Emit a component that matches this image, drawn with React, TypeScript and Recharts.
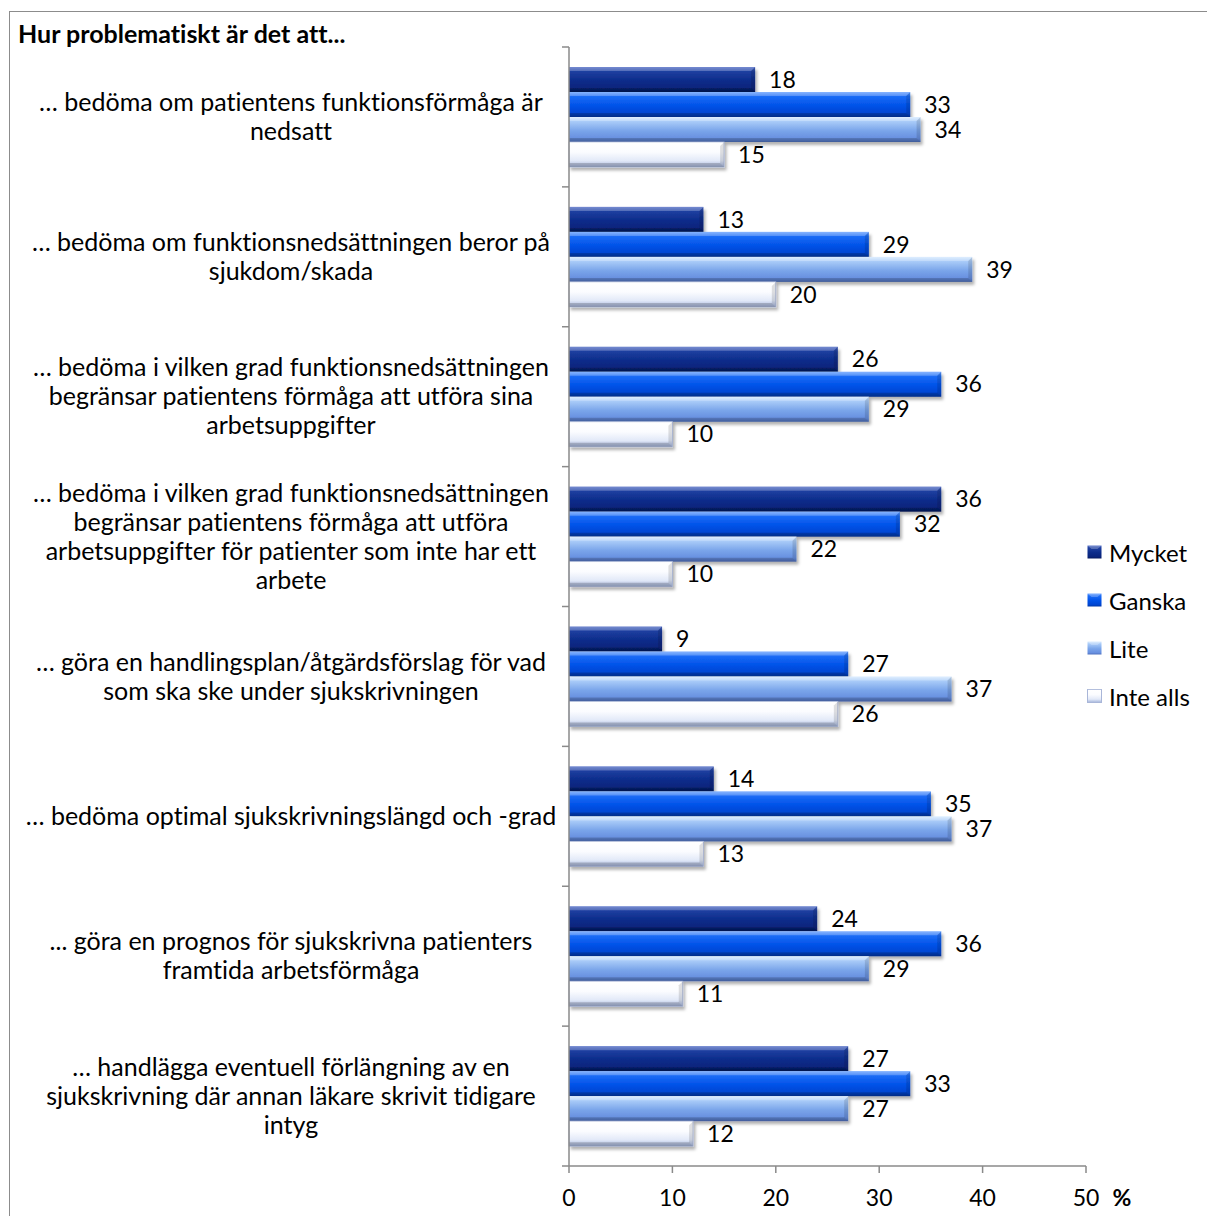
import React from "react";
import { BarChart, Bar, XAxis, YAxis, LabelList } from "recharts";

// Kategorier (radbrytningar som i originalet)
const categories = [
  "… bedöma om patientens funktionsförmåga är\nnedsatt",
  "… bedöma om funktionsnedsättningen beror på\nsjukdom/skada",
  "… bedöma i vilken grad funktionsnedsättningen\nbegränsar patientens förmåga att utföra sina\narbetsuppgifter",
  "… bedöma i vilken grad funktionsnedsättningen\nbegränsar patientens förmåga att utföra\narbetsuppgifter för patienter som inte har ett\narbete",
  "… göra en handlingsplan/åtgärdsförslag för vad\nsom ska ske under sjukskrivningen",
  "… bedöma optimal sjukskrivningslängd och -grad",
  "... göra en prognos för sjukskrivna patienters\nframtida arbetsförmåga",
  "… handlägga eventuell förlängning av en\nsjukskrivning där annan läkare skrivit tidigare\nintyg",
];

const mycket = [18, 13, 26, 36, 9, 14, 24, 27];
const ganska = [33, 29, 36, 32, 27, 35, 36, 33];
const lite = [34, 39, 29, 22, 37, 37, 29, 27];
const inteAlls = [15, 20, 10, 10, 26, 13, 11, 12];

const seriesNames = ["Mycket", "Ganska", "Lite", "Inte alls"];
const xTicks = [0, 10, 20, 30, 40, 50];

const title = "Hur problematiskt är det att...";

const FONT = "Lato, 'Open Sans', sans-serif";
const W = 1200;
const H = 1208;
const PLOT_LEFT = 561;
const PLOT_TOP = 39;
const PLOT_BOTTOM = 1158;
const BAND = (PLOT_BOTTOM - PLOT_TOP) / categories.length;
const AXIS = "#8a8a8a";

const gradients = [
  [["0", "#4d69c4"], ["0.18", "#1e3fa0"], ["0.55", "#0c2c8a"], ["0.85", "#09247c"], ["1", "#061a5e"]],
  [["0", "#66a0ff"], ["0.18", "#1c6cf6"], ["0.55", "#0052e8"], ["0.85", "#0046d2"], ["1", "#0037a6"]],
  [["0", "#d6eaff"], ["0.18", "#a9cbf8"], ["0.55", "#7aa5ea"], ["0.85", "#6890e0"], ["1", "#4f72bf"]],
  [["0", "#ffffff"], ["0.4", "#fbfcff"], ["0.75", "#e2e9f8"], ["1", "#a3b3da"]],
];

const data = categories.map((c, i) => ({
  category: c,
  Mycket: mycket[i],
  Ganska: ganska[i],
  Lite: lite[i],
  "Inte alls": inteAlls[i],
}));

function BevelBar(props: any) {
  const { x, y, width, height, gi } = props;
  if (!width || width <= 0) return null;
  const b = 4;
  const r = x + width;
  const bot = y + height;
  return (
    <g filter="url(#barShadow)">
      <rect x={x} y={y} width={width} height={height} fill={`url(#grad${gi})`}
        stroke={gi === 3 ? "#a9b6d8" : "none"} strokeWidth={gi === 3 ? 0.8 : 0} />
      <polygon points={`${x},${y} ${r},${y} ${r - b},${y + b} ${x},${y + b}`} fill="#ffffff" fillOpacity={0.22} />
      <polygon points={`${x},${bot - b} ${r - b},${bot - b} ${r},${bot} ${x},${bot}`} fill="#000000" fillOpacity={0.18} />
      <polygon points={`${r - b},${y + b} ${r},${y} ${r},${bot} ${r - b},${bot - b}`} fill="#000000" fillOpacity={0.12} />
    </g>
  );
}

function CategoryTick({ y, payload, index }: any) {
  const lines = String(payload.value).split("\n");
  const lh = 29;
  const start = y - ((lines.length - 1) * lh) / 2;
  const top = y - BAND / 2;
  return (
    <g>
      <line x1={PLOT_LEFT - 7} x2={PLOT_LEFT} y1={top} y2={top} stroke={AXIS} strokeWidth={1.5} />
      {index === categories.length - 1 && (
        <line x1={PLOT_LEFT - 7} x2={PLOT_LEFT} y1={top + BAND} y2={top + BAND} stroke={AXIS} strokeWidth={1.5} />
      )}
      {lines.map((l, i) => (
        <text key={i} x={283} y={start + i * lh} dy="0.35em" textAnchor="middle" fontSize={25} fill="#000"
          fontFamily={FONT} style={{ fontVariantLigatures: "none" }}>
          {l}
        </text>
      ))}
    </g>
  );
}

function ValueTick({ x, y, payload }: any) {
  return (
    <g>
      <text x={x} y={y} dy="0.71em" textAnchor="middle" fontSize={23} fill="#000" fontFamily={FONT}>
        {payload.value}
      </text>
      {payload.value === xTicks[xTicks.length - 1] && (
        <text x={x + 36} y={y} dy="0.71em" textAnchor="middle" fontSize={23} fontWeight="bold" fill="#000" fontFamily={FONT}>
          %
        </text>
      )}
    </g>
  );
}

function LegendBox() {
  return (
    <div style={{ position: "absolute", left: 1079, top: 520 }}>
      {seriesNames.map((n, i) => (
        <div key={n} style={{ display: "flex", alignItems: "center", height: 48 }}>
          <svg width={15} height={14} style={{ marginRight: 7 }}>
            <defs>
              <linearGradient id={`lg${i}`} x1="0" y1="0" x2="0" y2="1">
                {gradients[i].map(([o, c]) => <stop key={o} offset={o} stopColor={c} />)}
              </linearGradient>
            </defs>
            <rect x={0.5} y={0.5} width={14} height={13} fill={`url(#lg${i})`} stroke={i === 3 ? "#a9b6d8" : "none"} />
            <polygon points="0.5,0.5 14.5,0.5 10.5,4 4.5,4" fill="#fff" fillOpacity={0.25} />
          </svg>
          <span style={{ fontSize: 24, color: "#000" }}>{n}</span>
        </div>
      ))}
    </div>
  );
}

export default function App() {
  return (
    <div style={{ position: "relative", width: W, height: H, overflow: "hidden", fontFamily: FONT, background: "#fff" }}>
      <div style={{ position: "absolute", left: 1, top: 3, width: W - 3, height: H + 20, border: "1.5px solid #8c8c8c" }} />
      <div style={{ position: "absolute", left: 10, top: 10, fontSize: 25, fontWeight: "bold", color: "#000", fontVariantLigatures: "none" }}>{title}</div>
      <BarChart
        width={W}
        height={H}
        data={data}
        layout="vertical"
        margin={{ top: PLOT_TOP, right: W - 1078, bottom: 10, left: 0 }}
        barGap={0}
        barSize={25}
        style={{ position: "absolute", left: 0, top: 0 }}
      >
        <defs>
          {gradients.map((g, i) => (
            <linearGradient key={i} id={`grad${i}`} x1="0" y1="0" x2="0" y2="1">
              {g.map(([o, c]) => <stop key={o} offset={o} stopColor={c} />)}
            </linearGradient>
          ))}
          <filter id="barShadow" x="-5%" y="-30%" width="115%" height="180%">
            <feDropShadow dx="2" dy="3" stdDeviation="1.6" floodColor="#000" floodOpacity="0.3" />
          </filter>
        </defs>
        <XAxis
          type="number"
          domain={[0, 50]}
          ticks={xTicks}
          height={40}
          axisLine={{ stroke: AXIS, strokeWidth: 1.5 }}
          tickLine={{ stroke: AXIS, strokeWidth: 1.5 }}
          tickSize={7}
          tickMargin={17}
          tick={<ValueTick />}
        />
        <YAxis
          type="category"
          dataKey="category"
          width={PLOT_LEFT}
          interval={0}
          axisLine={{ stroke: AXIS, strokeWidth: 1.5 }}
          tickLine={false}
          tick={<CategoryTick />}
        />
        {seriesNames.map((n, i) => (
          <Bar key={n} dataKey={n} isAnimationActive={false} shape={(p: any) => <BevelBar {...p} gi={i} />}>
            <LabelList dataKey={n} position="right" offset={14} fill="#000" fontSize={23} fontFamily={FONT} />
          </Bar>
        ))}
      </BarChart>
      <LegendBox />
    </div>
  );
}
